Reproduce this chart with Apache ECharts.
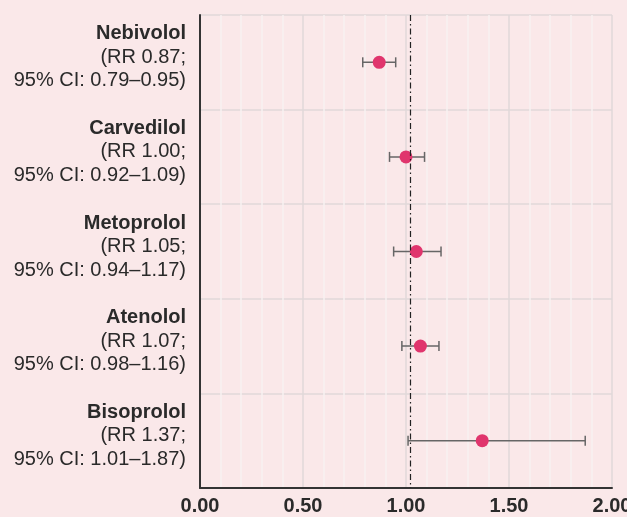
<!DOCTYPE html>
<html>
<head>
<meta charset="utf-8">
<script src="https://cdn.jsdelivr.net/npm/echarts@6/dist/echarts.min.js"></script>
<style>
  html, body { margin: 0; padding: 0; background: #fae8e9; }
  #main { width: 627px; height: 517px; }
</style>
</head>
<body>
<div id="main"></div>
<script>
var drugs = ['Nebivolol', 'Carvedilol', 'Metoprolol', 'Atenolol', 'Bisoprolol']
var rr = [0.87, 1.00, 1.05, 1.07, 1.37]
var ciLow = [0.79, 0.92, 0.94, 0.98, 1.01]
var ciHigh = [0.95, 1.09, 1.17, 1.16, 1.87]
var xTicks = [0, 0.5, 1.0, 1.5, 2.0]
var refLine = 1.02

var font = '"Liberation Sans", Arial, sans-serif'

// y labels: name on first line, RR and CI below
function drugLabel(name) {
  var i = drugs.indexOf(name)
  return '{b|' + name + '}\n{n|(RR ' + rr[i].toFixed(2) + ';}\n{n|95% CI: ' +
    ciLow[i].toFixed(2) + '\u2013' + ciHigh[i].toFixed(2) + ')}'
}

var pointData = rr.map(function (v, i) { return [v, drugs[i]] })
var barData = drugs.map(function (d, i) { return [d, ciLow[i], ciHigh[i]] })

var option = {
  backgroundColor: '#fae8e9',
  animation: false,
  grid: { left: 200, right: 15, top: 15, bottom: 29, outerBoundsMode: 'none' },
  xAxis: {
    type: 'value',
    min: xTicks[0],
    max: xTicks[xTicks.length - 1],
    interval: 0.5,
    axisLine: { show: true, lineStyle: { color: '#333', width: 2 } },
    axisTick: { show: false },
    axisLabel: {
      color: '#2a2a2a', fontFamily: font, fontSize: 20, fontWeight: 'bold', margin: 8,
      formatter: function (v) { return v.toFixed(2) }
    },
    splitLine: { show: true, lineStyle: { color: '#e0d9d9', width: 1.5 } },
    minorTick: { show: false, splitNumber: 5 },
    minorSplitLine: { show: true, lineStyle: { color: '#f8f1f1', width: 1.5 } }
  },
  yAxis: {
    type: 'category',
    data: drugs,
    inverse: true,
    axisLine: { show: true, lineStyle: { color: '#333', width: 2 } },
    axisTick: { show: false },
    splitLine: { show: true, lineStyle: { color: '#e0d9d9', width: 1.5 } },
    axisLabel: {
      margin: 14,
      align: 'right',
      padding: [0, 0, 10, 0],
      formatter: drugLabel,
      rich: {
        b: { fontFamily: font, fontSize: 20, fontWeight: 'bold', color: '#2a2a2a', lineHeight: 23.5, align: 'right' },
        n: { fontFamily: font, fontSize: 20, color: '#2a2a2a', lineHeight: 23.5, align: 'right' }
      }
    }
  },
  series: [
    {
      type: 'custom',
      data: barData,
      encode: { x: [1, 2], y: 0 },
      z: 2,
      renderItem: function (params, api) {
        var lo = api.coord([api.value(1), api.value(0)])
        var hi = api.coord([api.value(2), api.value(0)])
        var h = 5
        var style = { stroke: '#666', lineWidth: 1.5 }
        return {
          type: 'group',
          children: [
            { type: 'line', shape: { x1: lo[0], y1: lo[1], x2: hi[0], y2: hi[1] }, style: style },
            { type: 'line', shape: { x1: lo[0], y1: lo[1] - h, x2: lo[0], y2: lo[1] + h }, style: style },
            { type: 'line', shape: { x1: hi[0], y1: hi[1] - h, x2: hi[0], y2: hi[1] + h }, style: style }
          ]
        }
      }
    },
    {
      type: 'scatter',
      data: pointData,
      symbol: 'circle',
      symbolSize: 13,
      z: 3,
      itemStyle: { color: '#e0356d', opacity: 1 },
      markLine: {
        silent: true,
        symbol: 'none',
        label: { show: false },
        lineStyle: { color: '#222', width: 1.2, type: [6, 3, 1.5, 3] },
        data: [{ xAxis: refLine }]
      }
    }
  ]
}

var myChart = echarts.init(document.getElementById('main'))
myChart.setOption(option)
</script>
</body>
</html>
